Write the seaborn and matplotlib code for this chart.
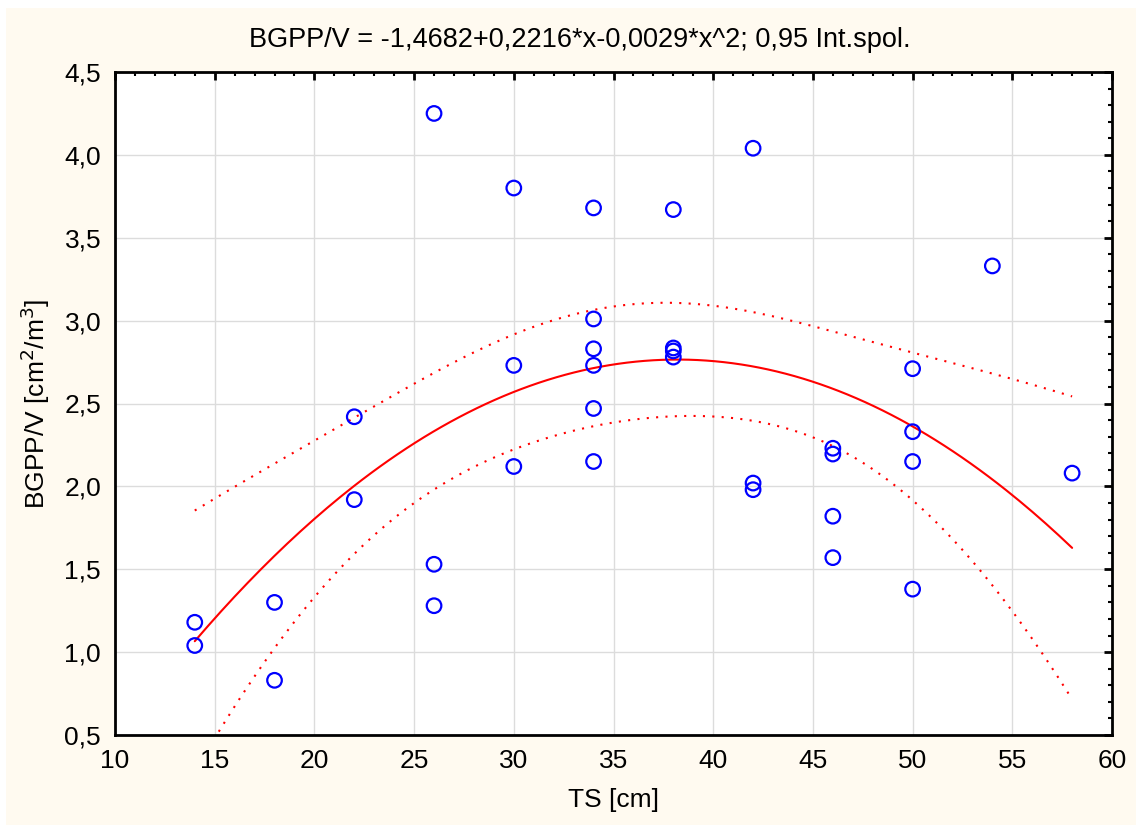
import numpy as np
import pandas as pd
import matplotlib
matplotlib.use("Agg")
import matplotlib.pyplot as plt
from matplotlib.patches import Rectangle
from matplotlib.ticker import MultipleLocator, FuncFormatter
import seaborn as sns

# Measured stem size class (TS, cm) and BGPP/V values
ts = [14, 14, 18, 18, 22, 22, 26, 26, 26, 30, 30, 30,
      34, 34, 34, 34, 34, 34, 38, 38, 38, 38, 42, 42, 42,
      46, 46, 46, 46, 50, 50, 50, 50, 54, 58]
bgpp = [1.18, 1.04, 1.30, 0.83, 2.42, 1.92, 4.25, 1.53, 1.28, 3.80, 2.73, 2.12,
        3.68, 3.01, 2.83, 2.73, 2.47, 2.15, 3.67, 2.835, 2.817, 2.78, 4.04, 2.02, 1.98,
        2.23, 2.195, 1.82, 1.57, 2.71, 2.33, 2.15, 1.38, 3.33, 2.08]

# Quadratic model from the title equation
coef = [-1.4682, 0.2216, -0.0029]
x_ticks = [10, 15, 20, 25, 30, 35, 40, 45, 50, 55, 60]
y_ticks = [0.5, 1.0, 1.5, 2.0, 2.5, 3.0, 3.5, 4.0, 4.5]

df = pd.DataFrame({"TS": ts, "BGPP": bgpp})

# Curve and 95% confidence band of the fitted mean
x = np.array(ts, float)
y = np.array(bgpp, float)
X = np.column_stack([np.ones_like(x), x, x ** 2])
beta = np.array(coef)
resid = y - X @ beta
n, p = X.shape
s2 = resid @ resid / (n - p)
XtX_inv = np.linalg.inv(X.T @ X)
t_crit = 2.0369  # t(0.975, df=32)

xg = np.linspace(min(ts), max(ts), 200)
Xg = np.column_stack([np.ones_like(xg), xg, xg ** 2])
yg = Xg @ beta
se = np.sqrt(np.einsum("ij,jk,ik->i", Xg, XtX_inv, Xg) * s2)
curve = pd.DataFrame({"TS": xg, "fit": yg, "lo": yg - t_crit * se, "hi": yg + t_crit * se})

sns.set_theme(style="white")
plt.rcParams["font.family"] = ["Liberation Sans", "DejaVu Sans"]

bg = "#FFFAF0"
W, H = 1136, 825
fig = plt.figure(figsize=(W / 100, H / 100), dpi=100, facecolor="white")
# cream panel with a thin white margin at the top and left
fig.patches.append(Rectangle((6 / W, 0), 1 - 6 / W, 1 - 8 / H, transform=fig.transFigure,
                             facecolor=bg, edgecolor="none", zorder=-10))

ax = fig.add_axes([115 / W, 1 - 735 / H, (1112 - 115) / W, (735 - 72) / H])
ax.set_facecolor("white")

ax.grid(True, which="major", color="#DCDCDC", linewidth=1.0)
ax.set_axisbelow(True)

dots = (0, (1, 3.5))
sns.lineplot(data=curve, x="TS", y="fit", color="red", linewidth=1.5, ax=ax)
sns.lineplot(data=curve, x="TS", y="hi", color="red", linewidth=1.5, linestyle=dots, ax=ax)
sns.lineplot(data=curve, x="TS", y="lo", color="red", linewidth=1.5, linestyle=dots, ax=ax)
sns.scatterplot(data=df, x="TS", y="BGPP", marker="o", s=110,
                facecolors="none", edgecolor="#0000FF", linewidth=1.6, ax=ax, zorder=5)

ax.set_xlim(10, 60)
ax.set_ylim(0.5, 4.5)
ax.set_xticks(x_ticks)
ax.set_yticks(y_ticks)
ax.xaxis.set_minor_locator(MultipleLocator(1))
ax.yaxis.set_minor_locator(MultipleLocator(0.1))
ax.yaxis.set_major_formatter(FuncFormatter(lambda v, pos: f"{v:.1f}".replace(".", ",")))
ax.xaxis.set_major_formatter(FuncFormatter(lambda v, pos: f"{v:.0f}"))

for side in ["left", "right", "top", "bottom"]:
    ax.spines[side].set_visible(True)
    ax.spines[side].set_color("black")
    ax.spines[side].set_linewidth(2)

ax.tick_params(which="major", direction="in", length=6, width=2, color="black",
               labelsize=19, labelcolor="black", top=True, right=True, pad=10)
ax.tick_params(which="minor", direction="in", length=3, width=1.5, color="black",
               top=True, right=True)

ax.set_xlabel("TS [cm]", fontsize=19, labelpad=11, color="black")
ax.set_ylabel(r"BGPP/V [cm$^2$/m$^3$]", fontsize=19, labelpad=9, color="black")
fig.text(580 / W, 1 - 40 / H, "BGPP/V = -1,4682+0,2216*x-0,0029*x^2; 0,95 Int.spol.",
         fontsize=19.5, color="black", ha="center", va="center")

fig.savefig("out.png", dpi=100, facecolor="white")
